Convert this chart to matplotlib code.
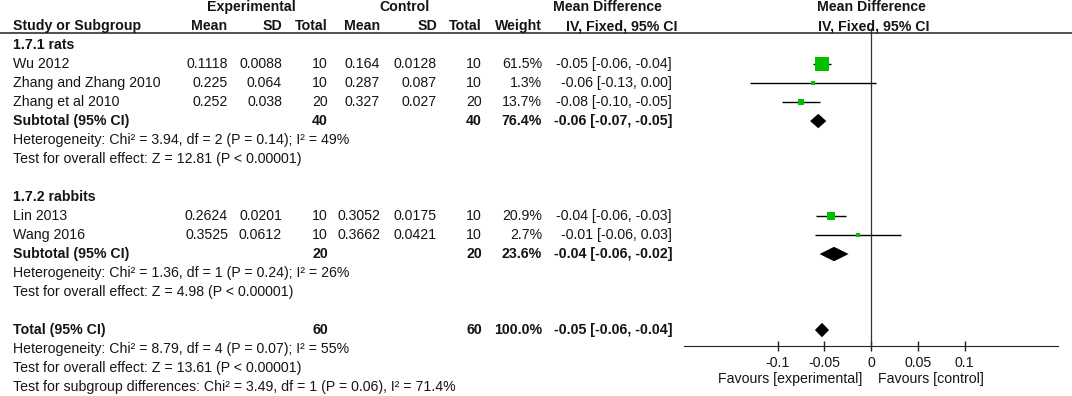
import matplotlib.pyplot as plt
from matplotlib import transforms
from matplotlib.lines import Line2D

plt.rcParams['font.family'] = ['Liberation Sans', 'DejaVu Sans']

# studies
studies = ["Wu 2012", "Zhang and Zhang 2010", "Zhang et al 2010", "Lin 2013", "Wang 2016"]
study_rows = [1, 2, 3, 9, 10]
exp_mean = ["0.1118", "0.225", "0.252", "0.2624", "0.3525"]
exp_sd = ["0.0088", "0.064", "0.038", "0.0201", "0.0612"]
exp_n = ["10", "10", "20", "10", "10"]
ctl_mean = ["0.164", "0.287", "0.327", "0.3052", "0.3662"]
ctl_sd = ["0.0128", "0.087", "0.027", "0.0175", "0.0421"]
ctl_n = ["10", "10", "20", "10", "10"]
weight_txt = ["61.5%", "1.3%", "13.7%", "20.9%", "2.7%"]
ci_txt = ["-0.05 [-0.06, -0.04]", "-0.06 [-0.13, 0.00]", "-0.08 [-0.10, -0.05]",
          "-0.04 [-0.06, -0.03]", "-0.01 [-0.06, 0.03]"]
weights = [61.5, 1.3, 13.7, 20.9, 2.7]
md = [-0.0522, -0.062, -0.075, -0.0428, -0.0137]
lo = [-0.0618, -0.129, -0.0954, -0.0593, -0.0597]
hi = [-0.0426, 0.0049, -0.0546, -0.0263, 0.0323]

# pooled estimates (rats subtotal, rabbits subtotal, total)
pool_labels = ["Subtotal (95% CI)", "Subtotal (95% CI)", "Total (95% CI)"]
pool_rows = [4, 11, 15]
pool_exp_n = ["40", "20", "60"]
pool_ctl_n = ["40", "20", "60"]
pool_weight = ["76.4%", "23.6%", "100.0%"]
pool_ci_txt = ["-0.06 [-0.07, -0.05]", "-0.04 [-0.06, -0.02]", "-0.05 [-0.06, -0.04]"]
pool_md = [-0.0564, -0.0395, -0.0524]
pool_lo = [-0.0651, -0.0550, -0.0600]
pool_hi = [-0.0478, -0.0239, -0.0449]

groups = ["1.7.1 rats", "1.7.2 rabbits"]
group_rows = [0, 8]
notes = ["Heterogeneity: Chi\u00b2 = 3.94, df = 2 (P = 0.14); I\u00b2 = 49%",
         "Test for overall effect: Z = 12.81 (P < 0.00001)",
         "Heterogeneity: Chi\u00b2 = 1.36, df = 1 (P = 0.24); I\u00b2 = 26%",
         "Test for overall effect: Z = 4.98 (P < 0.00001)",
         "Heterogeneity: Chi\u00b2 = 8.79, df = 4 (P = 0.07); I\u00b2 = 55%",
         "Test for overall effect: Z = 13.61 (P < 0.00001)",
         "Test for subgroup differences: Chi\u00b2 = 3.49, df = 1 (P = 0.06), I\u00b2 = 71.4%"]
note_rows = [5, 6, 12, 13, 16, 17, 18]

ticks = [-0.1, -0.05, 0, 0.05, 0.1]
tick_labels = ["-0.1", "-0.05", "0", "0.05", "0.1"]

W, H = 1072, 396
fig = plt.figure(figsize=(W / 100, H / 100), dpi=100)
ax = fig.add_axes([684 / W, 50 / H, 374 / W, 346 / H])
ax.set_xlim(-0.2, 0.2)
ax.set_ylim(15.84, -2.37)

tc = '#151515'
fs = 10.2
tr = transforms.blended_transform_factory(fig.transFigure, ax.transData)


def px(x):
    return x / W


def put(x, row, s, ha='right', bold=False):
    fig.text(px(x), row, s, ha=ha, va='center', fontsize=fs, color=tc,
             fontweight='bold' if bold else 'normal', transform=tr)


# headers
put(251, -2, "Experimental", ha='center', bold=True)
put(405, -2, "Control", ha='center', bold=True)
put(607, -2, "Mean Difference", ha='center', bold=True)
put(13, -1, "Study or Subgroup", ha='left', bold=True)
for x, s in zip([227, 282, 328, 380, 437, 482, 542],
                ["Mean", "SD", "Total", "Mean", "SD", "Total", "Weight"]):
    put(x, -1, s, bold=True)
put(622, -1, "IV, Fixed, 95% CI", ha='center', bold=True)
ax.text(0.0, -2, "Mean Difference", ha='center', va='center', fontsize=fs,
        color=tc, fontweight='bold')
ax.text(0.003, -1, "IV, Fixed, 95% CI", ha='center', va='center', fontsize=fs,
        color=tc, fontweight='bold')
fig.add_artist(Line2D([0, 1], [-0.63, -0.63], transform=tr, color='#222222', lw=1.1))

for g, r in zip(groups, group_rows):
    put(13, r, g, ha='left', bold=True)

for i, r in enumerate(study_rows):
    put(13, r, studies[i], ha='left')
    put(228, r, exp_mean[i])
    put(282, r, exp_sd[i])
    put(328, r, exp_n[i])
    put(380, r, ctl_mean[i])
    put(437, r, ctl_sd[i])
    put(482, r, ctl_n[i])
    put(542, r, weight_txt[i])
    put(672, r, ci_txt[i])

for i, r in enumerate(pool_rows):
    put(13, r, pool_labels[i], ha='left', bold=True)
    put(328, r, pool_exp_n[i], bold=True)
    put(482, r, pool_ctl_n[i], bold=True)
    put(542, r, pool_weight[i], bold=True)
    put(672, r, pool_ci_txt[i], bold=True)

for s, r in zip(notes, note_rows):
    put(13, r, s, ha='left')

# forest plot
ax.vlines(0, -0.9, 15.84, color='#333333', lw=0.9)
ax.hlines(study_rows, lo, hi, color='black', lw=1.0, zorder=2)
sizes = [max(100 * w / 61.5, 7) for w in weights]
ax.scatter(md, study_rows, s=sizes, marker='s', color='#00c000', zorder=3, linewidths=0)
for m, l, h, r in zip(pool_md, pool_lo, pool_hi, pool_rows):
    ax.fill([l, m, h, m], [r, r - 0.38, r, r + 0.38], color='black', lw=0, zorder=3)

for side in ['top', 'right', 'left']:
    ax.spines[side].set_visible(False)
ax.spines['bottom'].set_color('#222222')
ax.set_yticks([])
ax.set_xticks(ticks)
ax.set_xticklabels(tick_labels)
ax.tick_params(axis='x', direction='inout', length=7, width=1, color='#222222',
               labelsize=fs, labelcolor=tc, pad=4)
ax.patch.set_alpha(0)
ax.text(-0.009, 17.6, "Favours [experimental]", ha='right', va='center', fontsize=fs, color=tc)
ax.text(0.008, 17.6, "Favours [control]", ha='left', va='center', fontsize=fs, color=tc)

fig.savefig("out.png", dpi=100)
